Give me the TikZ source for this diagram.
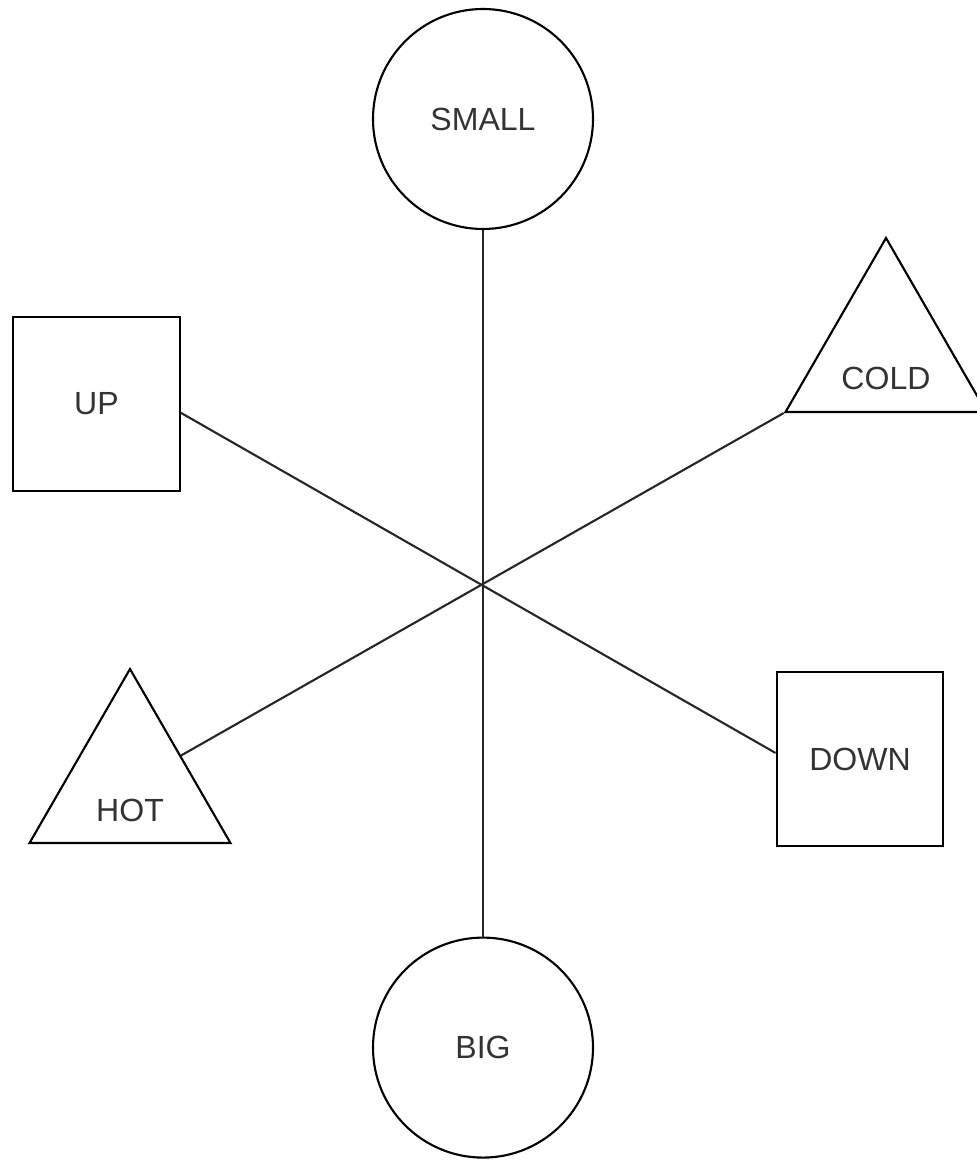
\documentclass[tikz,border=0pt]{standalone}
\usepackage{fontspec}
\setmainfont{Liberation Sans}
\usetikzlibrary{shapes.geometric}

\begin{document}
\begin{tikzpicture}[
        every node/.style={font=\fontsize{22.8}{27}\selectfont, text=black!80},
        ring/.style={draw, circle, line width=1.5pt, minimum size=5.5cm, inner sep=0pt},
        boxy/.style={draw, rectangle, line width=1.5pt, minimum width=4.17cm, minimum height=4.35cm},
        tri/.style={draw, regular polygon, regular polygon sides=3, line width=1.5pt, minimum size=5.8cm, inner sep=0pt},
        link/.style={line width=1.5pt, draw=black!85}
    ]
            \useasboundingbox (0, 0) rectangle (24.425, 29);
            \clip (0, 0) rectangle (24.425, 29);

            \node[ring] (small) at (12.075, 26.025) {SMALL};
            \node[ring] (big) at (12.075, 2.81) {BIG};

            \node[boxy] (up) at (2.41, 18.9) {UP};
            \node[boxy] (down) at (21.5, 10.025) {DOWN};

            \node[tri] (cold) at (22.15, 20.15) {};
            \node (coldtxt) at (22.15, 19.55) {COLD};
            \node[tri] (hot) at (3.25, 9.375) {};
            \node (hottxt) at (3.25, 8.75) {HOT};

            \draw[link] (small.south) -- (big.north);
            \draw[link] ([yshift=-0.22cm]up.east) -- ([yshift=0.15cm]down.west);
            \draw[link] (hot.side 3) -- (cold.corner 2);
        \end{tikzpicture}
\end{document}
